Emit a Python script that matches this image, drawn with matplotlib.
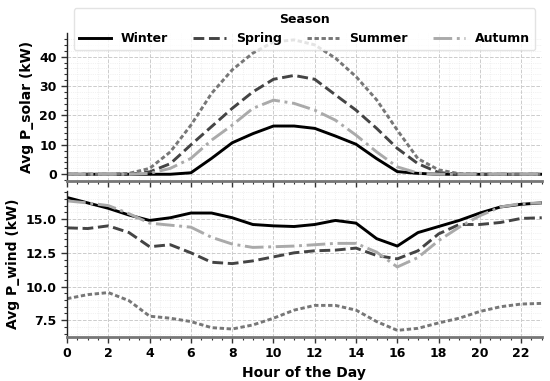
import matplotlib
matplotlib.use("Agg")
import matplotlib.pyplot as plt
from matplotlib.ticker import AutoMinorLocator, MultipleLocator

hours = list(range(24))
seasons = ["Winter", "Spring", "Summer", "Autumn"]

solar_winter = [0, 0, 0, 0, 0, 0, 0.5, 5.4, 10.7, 13.8, 16.4, 16.4, 15.6, 13.0, 10.2, 5.3, 0.9, 0.3, 0, 0, 0, 0, 0, 0]
solar_spring = [0, 0, 0, 0, 0.8, 3.6, 10.0, 16.2, 22.4, 28.0, 32.3, 33.6, 32.3, 27.0, 21.8, 15.6, 8.8, 3.6, 0.6, 0, 0, 0, 0, 0]
solar_summer = [0, 0, 0, 0.3, 2.0, 7.6, 16.7, 27.5, 35.5, 41.2, 45.0, 45.7, 44.0, 39.5, 33.2, 25.3, 15.0, 5.3, 1.5, 0.2, 0, 0, 0, 0]
solar_autumn = [0, 0, 0, 0, 0.3, 2.0, 5.4, 11.6, 16.7, 22.4, 25.2, 24.1, 21.8, 18.4, 13.3, 7.6, 2.5, 0.4, 0, 0, 0, 0, 0, 0]

wind_winter = [16.6, 16.2, 15.8, 15.3, 14.9, 15.1, 15.45, 15.45, 15.1, 14.6, 14.5, 14.45, 14.6, 14.9, 14.7, 13.55, 13.0, 14.0, 14.45, 14.9, 15.45, 15.9, 16.1, 16.2]
wind_spring = [14.35, 14.3, 14.5, 14.0, 12.95, 13.1, 12.5, 11.8, 11.7, 11.9, 12.2, 12.5, 12.65, 12.7, 12.85, 12.3, 12.05, 12.65, 13.9, 14.6, 14.6, 14.75, 15.05, 15.1]
wind_summer = [9.1, 9.4, 9.55, 8.95, 7.8, 7.65, 7.4, 6.95, 6.85, 7.15, 7.65, 8.25, 8.6, 8.6, 8.25, 7.4, 6.75, 6.9, 7.3, 7.65, 8.15, 8.5, 8.7, 8.75]
wind_autumn = [16.35, 16.2, 16.0, 15.4, 14.7, 14.55, 14.4, 13.65, 13.15, 12.9, 12.95, 13.0, 13.1, 13.2, 13.2, 12.55, 11.45, 12.15, 13.4, 14.4, 15.25, 15.9, 16.15, 16.2]

solar = [solar_winter, solar_spring, solar_summer, solar_autumn]
wind = [wind_winter, wind_spring, wind_summer, wind_autumn]

colors = ["#000000", "#444444", "#777777", "#aaaaaa"]
styles = [dict(linestyle="-"), dict(linestyle="--"), dict(dashes=(1.5, 0.9)), dict(linestyle="-.")]

plt.rcParams["font.family"] = "DejaVu Sans"
plt.rcParams["font.weight"] = "bold"

fig = plt.figure(figsize=(5.5, 3.81), dpi=100)
ax1 = fig.add_axes([0.122, 0.525, 0.863, 0.388])
ax2 = fig.add_axes([0.122, 0.1155, 0.863, 0.3835], sharex=ax1)

lw = 2.1
for i, s in enumerate(seasons):
    ax1.plot(hours, solar[i], color=colors[i], lw=lw, label=s, **styles[i])
    ax2.plot(hours, wind[i], color=colors[i], lw=lw, label=s, **styles[i])

for ax in (ax1, ax2):
    ax.set_xlim(0, 23)
    ax.xaxis.set_major_locator(MultipleLocator(2))
    ax.xaxis.set_minor_locator(AutoMinorLocator())
    ax.yaxis.set_minor_locator(AutoMinorLocator())
    ax.grid(which="major", linestyle="--", color="#cccccc", linewidth=0.7)
    ax.grid(which="minor", linestyle=":", color="#e6e6e6", linewidth=0.5)
    ax.set_axisbelow(True)
    for sp in ("top", "right"):
        ax.spines[sp].set_visible(False)
    ax.spines["left"].set_color("#222222")
    ax.spines["left"].set_linewidth(1.0)
    ax.spines["bottom"].set_color("#777777")
    ax.spines["bottom"].set_linewidth(2.0)
    ax.tick_params(axis="both", which="major", labelsize=9, length=4, width=1, color="#333333")
    ax.tick_params(axis="both", which="minor", length=2, width=0.8, color="#333333")
    for lab in ax.get_xticklabels() + ax.get_yticklabels():
        lab.set_fontweight("bold")

ax1.tick_params(axis="x", labelbottom=False)
ax1.set_yticks([0, 10, 20, 30, 40])
ax2.set_yticks([7.5, 10.0, 12.5, 15.0])
ax2.set_yticklabels(["7.5", "10.0", "12.5", "15.0"], fontweight="bold")
ax2.set_xticks(list(range(0, 23, 2)))
ax2.set_xticklabels([str(h) for h in range(0, 23, 2)], fontweight="bold")

ax1.set_ylabel("Avg P_solar (kW)", fontsize=10, fontweight="bold")
ax2.set_ylabel("Avg P_wind (kW)", fontsize=10, fontweight="bold")
ax2.set_xlabel("Hour of the Day", fontsize=10, fontweight="bold")
fig.align_ylabels([ax1, ax2])

leg = ax1.legend(loc="upper center", bbox_to_anchor=(0.5, 1.169), borderaxespad=0,
                 ncol=4, title="Season", fontsize=9, title_fontsize=9,
                 handlelength=2.6, columnspacing=2.0, framealpha=0.8,
                 edgecolor="#dddddd")
leg.get_title().set_fontweight("bold")
for t in leg.get_texts():
    t.set_fontweight("bold")

fig.savefig("out.png", dpi=100)
